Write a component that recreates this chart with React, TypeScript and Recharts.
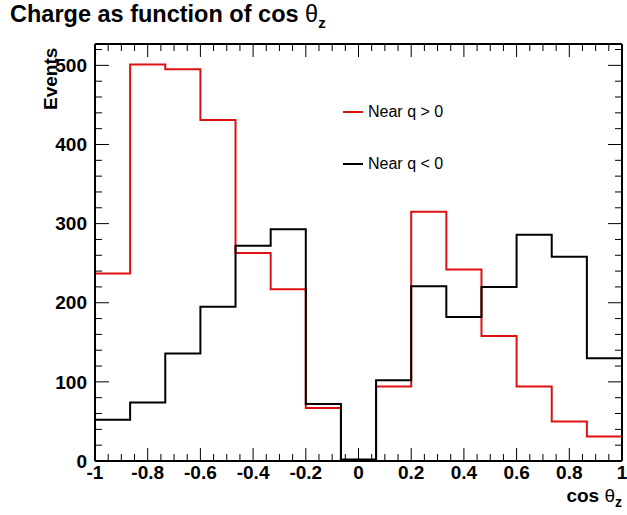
import { LineChart, Line, XAxis, YAxis, Legend } from 'recharts';

// bin edges of cos(theta_z), 15 bins from -1 to 1
const binEdges = [
  -1, -0.8667, -0.7333, -0.6, -0.4667, -0.3333, -0.2, -0.0667,
  0.0667, 0.2, 0.3333, 0.4667, 0.6, 0.7333, 0.8667, 1,
];
const nearPos = [237, 501, 495, 431, 263, 217, 67, 1, 94, 315, 242, 158, 94, 50, 31];
const nearNeg = [52, 74, 136, 195, 272, 293, 72, 2, 102, 221, 182, 220, 286, 258, 130];

// tick positions: majors get a label and a long tick, the rest a short tick
const xTicks = Array.from({ length: 41 }, (_, i) => Math.round((-1 + i * 0.05) * 100) / 100);
const yTicks = Array.from({ length: 27 }, (_, i) => i * 20);
const isXMajor = (v: number) => Math.abs(v * 5 - Math.round(v * 5)) < 1e-6;
const isYMajor = (v: number) => v % 100 === 0;

const data = binEdges.map((x, i) => ({
  x,
  pos: nearPos[Math.min(i, nearPos.length - 1)],
  neg: nearNeg[Math.min(i, nearNeg.length - 1)],
}));

const RED = '#dd1111';
const font = '"Liberation Sans", Arial, Helvetica, sans-serif';
const frame = { stroke: '#000', strokeWidth: 2 };
const MAJ = 13;
const MIN = 7;

const fmtX = (v: number) => String(Math.round(v * 10) / 10);

const BottomTick = (p: any) => {
  const v = p.payload.value;
  const major = isXMajor(v);
  return (
    <g>
      <line x1={p.x} y1={p.y} x2={p.x} y2={p.y - (major ? MAJ : MIN)} stroke="#000" />
      {major && (
        <text x={p.x} y={p.y + 5} dy="0.71em" textAnchor="middle" fontSize={19} fontWeight={700} fontFamily={font}>
          {fmtX(v)}
        </text>
      )}
    </g>
  );
};
const TopTick = (p: any) => (
  <line x1={p.x} y1={p.y} x2={p.x} y2={p.y + (isXMajor(p.payload.value) ? MAJ : MIN)} stroke="#000" />
);
const LeftTick = (p: any) => {
  const v = p.payload.value;
  const major = isYMajor(v);
  return (
    <g>
      <line x1={p.x} y1={p.y} x2={p.x + (major ? MAJ + 1 : MIN)} y2={p.y} stroke="#000" />
      {major && (
        <text x={p.x - 8} y={p.y} dy="0.355em" textAnchor="end" fontSize={19} fontWeight={700} fontFamily={font}>
          {v}
        </text>
      )}
    </g>
  );
};
const RightTick = (p: any) => (
  <line x1={p.x} y1={p.y} x2={p.x - (isYMajor(p.payload.value) ? MAJ + 1 : MIN)} y2={p.y} stroke="#000" />
);

const LegendBox = () => (
  <div style={{ fontFamily: font, fontSize: 16, color: '#000' }}>
    {[
      { name: 'Near q > 0', color: RED },
      { name: 'Near q < 0', color: '#000' },
    ].map((e, i) => (
      <div key={e.name} style={{ display: 'flex', alignItems: 'center', height: 20, marginBottom: i === 0 ? 32 : 0 }}>
        <svg width={20} height={4} style={{ marginRight: 5 }}>
          <line x1={0} y1={2} x2={20} y2={2} stroke={e.color} strokeWidth={2} />
        </svg>
        {e.name}
      </div>
    ))}
  </div>
);

export default function App() {
  return (
    <div style={{ position: 'absolute', left: 0, top: 0, width: 627, height: 515, background: '#fff', fontFamily: font }}>
      <div style={{ position: 'absolute', left: 10, top: 1, fontSize: 23.5, fontWeight: 700, whiteSpace: 'nowrap' }}>
        Charge as function of cos <span style={{ fontWeight: 400 }}>θ</span>
        <sub style={{ fontSize: 15 }}>z</sub>
      </div>
      <div
        style={{
          position: 'absolute', left: 40, top: 110, fontSize: 19, fontWeight: 700,
          transform: 'rotate(-90deg)', transformOrigin: 'left top', whiteSpace: 'nowrap',
        }}
      >
        Events
      </div>
      <div style={{ position: 'absolute', right: 5, top: 485, fontSize: 19, fontWeight: 700, whiteSpace: 'nowrap' }}>
        cos <span style={{ fontWeight: 400 }}>θ</span>
        <sub style={{ fontSize: 14 }}>z</sub>
      </div>
      <LineChart width={627} height={515} data={data} margin={{ top: 43, right: 4, bottom: 0, left: 0 }}>
        <XAxis xAxisId="x" dataKey="x" type="number" domain={[-1, 1]} allowDataOverflow ticks={xTicks} interval={0}
          tickLine={false} axisLine={frame} tickSize={0} tickMargin={0} height={54} tick={<BottomTick />} />
        <XAxis xAxisId="top" dataKey="x" orientation="top" type="number" domain={[-1, 1]} allowDataOverflow ticks={xTicks} interval={0}
          tickLine={false} axisLine={frame} tickSize={0} tickMargin={0} height={1} tick={<TopTick />} />
        <YAxis yAxisId="y" type="number" domain={[0, 527]} allowDataOverflow ticks={yTicks} interval={0}
          tickLine={false} axisLine={frame} tickSize={0} tickMargin={0} width={95} tick={<LeftTick />} />
        <YAxis yAxisId="right" orientation="right" type="number" domain={[0, 527]} allowDataOverflow ticks={yTicks} interval={0}
          tickLine={false} axisLine={frame} tickSize={0} tickMargin={0} width={1} tick={<RightTick />} />

        <Line xAxisId="x" yAxisId="y" type="stepAfter" dataKey="pos" name="Near q > 0" stroke={RED}
          strokeWidth={2} dot={false} isAnimationActive={false} />
        <Line xAxisId="x" yAxisId="y" type="stepAfter" dataKey="neg" name="Near q < 0" stroke="#000"
          strokeWidth={2} dot={false} isAnimationActive={false} />
        <Legend layout="vertical" align="center" verticalAlign="middle" content={<LegendBox />}
          wrapperStyle={{ position: 'absolute', left: 343, top: 102, width: 'auto' }} />
      </LineChart>
    </div>
  );
}
